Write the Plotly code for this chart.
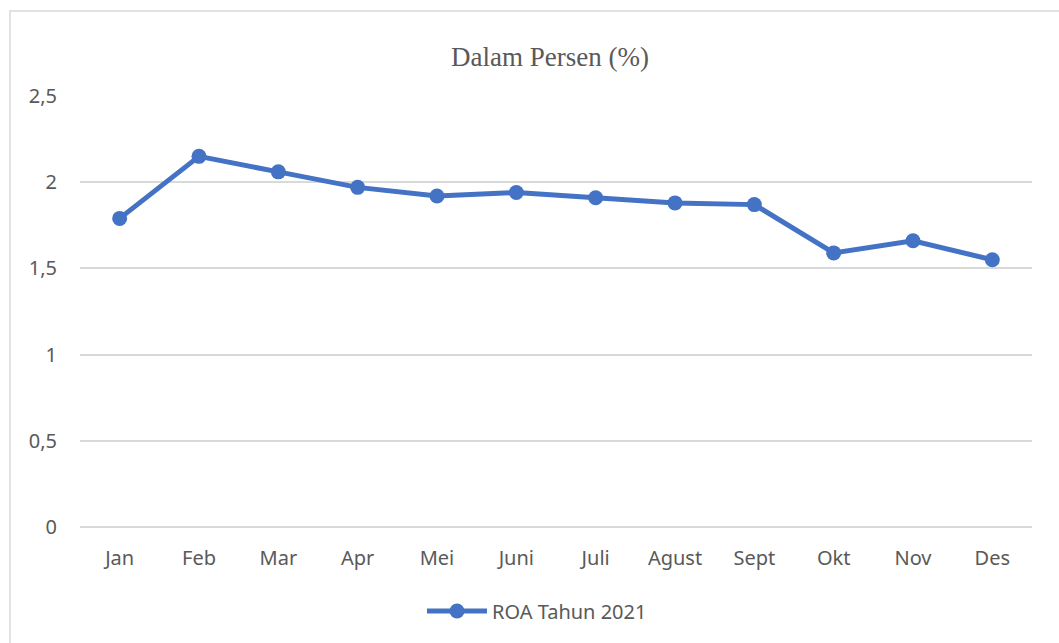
import plotly.graph_objects as go

bulan = ["Jan", "Feb", "Mar", "Apr", "Mei", "Juni", "Juli", "Agust", "Sept", "Okt", "Nov", "Des"]
roa_2021 = [1.79, 2.15, 2.06, 1.97, 1.92, 1.94, 1.91, 1.88, 1.87, 1.59, 1.66, 1.55]
nama_seri = "ROA Tahun 2021"
judul = "Dalam Persen (%)"

W, H = 1059, 643
L, R, T, B = 80, 27, 96, 116
pw, ph = W - L - R, H - T - B

fig = go.Figure()
fig.add_trace(go.Scatter(
    x=bulan, y=roa_2021, name=nama_seri, mode="lines+markers",
    line=dict(color="#4472C4", width=5),
    marker=dict(color="#4472C4", size=15),
))

text_font = dict(family="Noto Sans, Open Sans, sans-serif", size=20, color="#595959")

fig.update_layout(
    width=W, height=H,
    margin=dict(l=L, r=R, t=T, b=B),
    paper_bgcolor="white", plot_bgcolor="white",
    separators=",.",
    showlegend=True,
    legend=dict(orientation="h", x=(537 - L) / pw, xanchor="center", y=-(611 - T - ph) / ph,
                yanchor="middle", font=text_font, itemwidth=60),
    title=dict(text=judul, x=(550 - L) / pw, xref="paper", xanchor="center",
               y=1 - 57 / H, yanchor="middle",
               font=dict(family="Liberation Serif, Times New Roman, serif", size=27, color="#595959")),
    xaxis=dict(showgrid=False, showline=False, ticks="", tickfont=text_font,
               range=[-0.5, len(bulan) - 0.5],
               ticklabelstandoff=17, zeroline=False),
    yaxis=dict(range=[0, 2.5], dtick=0.5, tick0=0, showgrid=True, gridcolor="#D9D9D9",
               gridwidth=1.5, zeroline=True, zerolinecolor="#D9D9D9", zerolinewidth=1.5,
               showline=False, ticks="", tickfont=text_font, ticklabelstandoff=22,
               tickformat=".1~f"),
    shapes=[dict(type="rect", xref="paper", yref="paper",
                 x0=(10 - L) / pw, x1=(W + 20 - L) / pw,
                 y0=-(B + 20) / ph, y1=1 + (T - 11) / ph,
                 line=dict(color="#D9D9D9", width=1.5), layer="below")],
)

fig.write_html("out.html")
